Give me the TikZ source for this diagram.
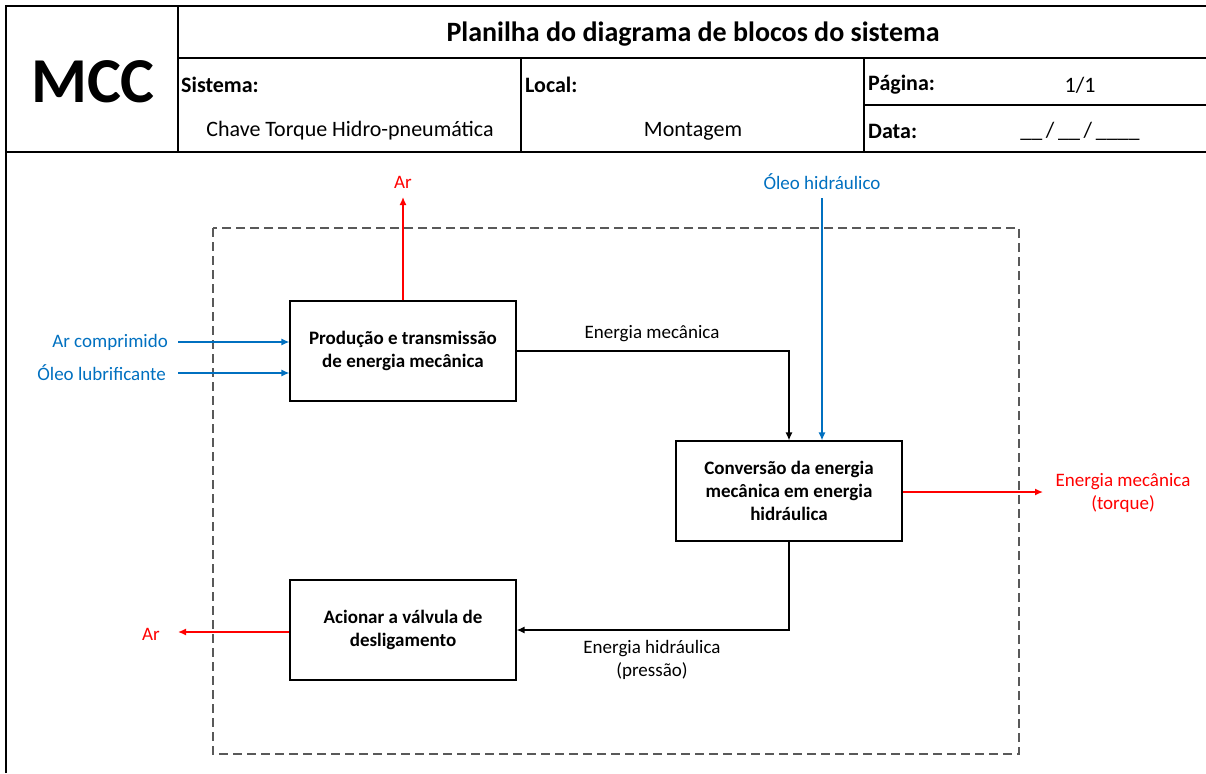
\documentclass[tikz,border=0pt]{standalone}
\usepackage{fontspec}
\setmainfont{Carlito}
\usetikzlibrary{arrows.meta}
\definecolor{xred}{RGB}{255,0,0}
\definecolor{xblue}{RGB}{0,112,192}
\definecolor{dashgray}{RGB}{89,89,89}
\begin{document}
\begin{tikzpicture}[x=1pt,y=-1pt,
  frame/.style={line width=2pt,black},
  block/.style={draw,line width=1.1pt,minimum width=226pt,minimum height=100pt,align=center,font=\fontsize{19}{23}\selectfont\bfseries,inner sep=0pt},
  lbl/.style={font=\fontsize{19}{23}\selectfont,align=center,inner sep=0pt},
  hdr/.style={font=\fontsize{22}{26}\selectfont,inner sep=0pt},
  hdrb/.style={font=\fontsize{22}{26}\selectfont\bfseries,inner sep=0pt,anchor=west},
  conn/.style={line width=1.4pt,-{Latex[length=8pt,width=7pt]}},
]
\useasboundingbox (0,0) rectangle (1206,773);
% header frame
\draw[frame] (6,773) -- (6,6) -- (1206,6);
\draw[frame] (178,58) -- (1206,58);
\draw[frame] (6,152) -- (1206,152);
\draw[frame] (864,105) -- (1206,105);
\draw[frame] (178,6) -- (178,152);
\draw[frame] (521,58) -- (521,152);
\draw[frame] (864,58) -- (864,152);
% header texts
\node[font=\fontsize{64}{70}\selectfont\bfseries,inner sep=0pt] (mcc) at (93,82) {MCC};
\node[font=\fontsize{28}{32}\selectfont\bfseries,inner sep=0pt] (title) at (693,34) {Planilha do diagrama de blocos do sistema};
\node[hdrb] (sis) at (181,85) {Sistema:};
\node[hdr] (sisv) at (350,131) {Chave Torque Hidro-pneumática};
\node[hdrb] (loc) at (525,85) {Local:};
\node[hdr] (locv) at (693,131) {Montagem};
\node[hdrb] (pag) at (868,85) {Página:};
\node[hdr] (pagv) at (1080,85) {1/1};
\node[hdrb] (dat) at (868,131) {Data:};
\node[hdr] (datv) at (1080,131) {\_\_\,/\,\_\_\,/\,\_\_\_\_};
% dashed system boundary
\draw[dashgray,line width=1.3pt,dash pattern=on 9pt off 5pt] (213,228) rectangle (1019,754);
% blocks
\node[block] (p1) at (403,351) {Produção e transmissão\\de energia mecânica};
\node[block] (p2) at (789,491) {Conversão da energia\\mecânica em energia\\hidráulica};
\node[block] (p3) at (403,630) {Acionar a válvula de\\desligamento};
% labels
\node[lbl,text=xred] (arTop) at (403,182) {Ar};
\node[lbl,text=xblue,anchor=east] (arComp) at (168,342) {Ar comprimido};
\node[lbl,text=xblue,anchor=east] (oleoLub) at (166,373) {Óleo lubrificante};
\node[lbl,text=xblue] (oleoHid) at (822,182) {Óleo hidráulico};
\node[lbl] (eMec) at (652,334) {Energia mecânica};
\node[lbl,text=xred] (torque) at (1123,493) {Energia mecânica\\(torque)};
\node[lbl] (eHid) at (652,660) {Energia hidráulica\\(pressão)};
\node[lbl,text=xred] (arLeft) at (151,634) {Ar};
% connector endpoints
\coordinate (arTopEnd) at (403,197);
\coordinate (ohStart) at (822,198);
\coordinate (tqEnd) at (1043,492);
\coordinate (arLeftEnd) at (178,632);
\coordinate (acStart) at (178,342);
\coordinate (olStart) at (178,373);
% connectors
\draw[conn,xred] (p1.north) -- (arTopEnd);
\draw[conn,xblue] (acStart) -- (acStart -| p1.west);
\draw[conn,xblue] (olStart) -- (olStart -| p1.west);
\draw[conn,black] (p1.east) -| (p2.north);
\draw[conn,xblue] (ohStart) -- (ohStart |- p2.north);
\draw[conn,xred] (p2.east |- tqEnd) -- (tqEnd);
\draw[conn,black] (p2.south) |- (p3.east);
\draw[conn,xred] (p3.west |- arLeftEnd) -- (arLeftEnd);
\end{tikzpicture}
\end{document}
